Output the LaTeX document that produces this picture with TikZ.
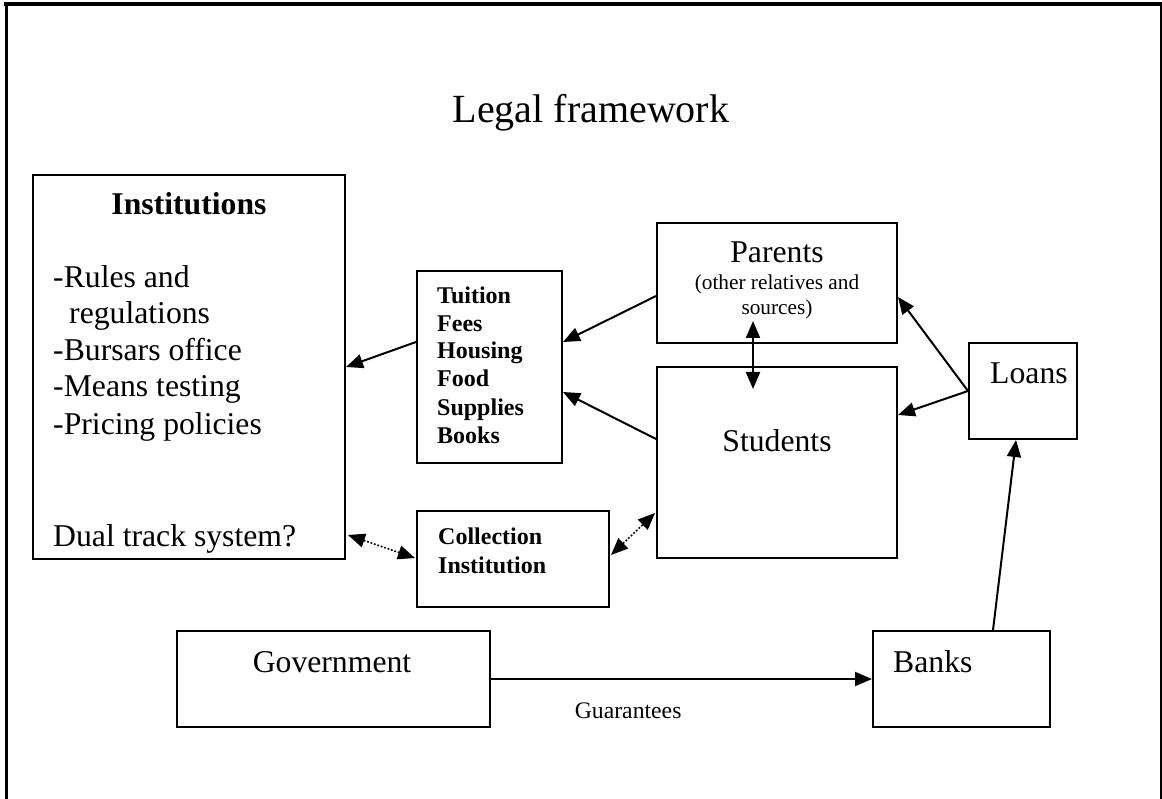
\documentclass[tikz,border=0pt]{standalone}
\usepackage{fontspec}
\setmainfont{Liberation Serif}
\usetikzlibrary{arrows.meta}
\tikzset{
  box/.style={draw, line width=2pt, inner sep=0pt, minimum width=#1},
  lbl/.style={inner sep=0pt, font=\fontsize{31.7}{36}\selectfont},
  sml/.style={inner sep=0pt, font=\fontsize{21.3}{25}\selectfont},
  bld/.style={inner sep=0pt, font=\fontsize{24}{28}\selectfont\bfseries},
  arr/.style={line width=2pt, -{Triangle[length=17pt,width=14pt]}},
  darr/.style={line width=2pt, {Triangle[length=17pt,width=14pt]}-{Triangle[length=17pt,width=14pt]}},
  dotarr/.style={line width=1.6pt, dash pattern=on 1.8pt off 1.8pt, {Triangle[length=17pt,width=14pt]}-{Triangle[length=17pt,width=14pt]}}
}
\begin{document}
\begin{tikzpicture}[x=1pt,y=-1pt]
\useasboundingbox (0,0) rectangle (1162,799);
% outer frame
\draw[line width=4pt] (4,4.5) -- (1162,4.5);
\draw[line width=3pt] (6.5,3) -- (6.5,799);
\draw[line width=1.5pt] (1161,3) -- (1161,799);

% title
\node[inner sep=0pt, anchor=base, font=\fontsize{40}{46}\selectfont] (title) at (591,123) {Legal framework};

% boxes
\node[box=312pt, minimum height=384pt] (inst) at (189,367) {};
\node[box=145pt, minimum height=192pt] (tuit) at (489.5,367) {};
\node[box=240pt, minimum height=120pt] (par) at (777,283) {};
\node[box=240pt, minimum height=191pt] (stu) at (777,462.5) {};
\node[box=192pt, minimum height=96pt] (coll) at (513,559) {};
\node[box=108pt, minimum height=96pt] (loans) at (1023,391) {};
\node[box=313pt, minimum height=96pt] (gov) at (333.5,679) {};
\node[box=177pt, minimum height=96pt] (banks) at (961.5,679) {};

% institutions text
\node[lbl, anchor=base, font=\fontsize{31.7}{36}\selectfont\bfseries] (instT) at (189,215) {Institutions};
\node[lbl, anchor=base west] (inst1) at (53,288) {-Rules and};
\node[lbl, anchor=base west] (inst2) at (69,324) {regulations};
\node[lbl, anchor=base west] (inst3) at (53,361) {-Bursars office};
\node[lbl, anchor=base west] (inst4) at (53,397) {-Means testing};
\node[lbl, anchor=base west] (inst5) at (53,435) {-Pricing policies};
\node[lbl, anchor=base west] (inst6) at (53,546) {Dual track system?};

% tuition text
\node[bld, anchor=base west] (tu1) at (437,304) {Tuition};
\node[bld, anchor=base west] (tu2) at (437,332) {Fees};
\node[bld, anchor=base west] (tu3) at (437,359) {Housing};
\node[bld, anchor=base west] (tu4) at (437,387) {Food};
\node[bld, anchor=base west] (tu5) at (437,415) {Supplies};
\node[bld, anchor=base west] (tu6) at (437,443) {Books};

% collection text
\node[bld, anchor=base west] (co1) at (438,544) {Collection};
\node[bld, anchor=base west] (co2) at (438,573) {Institution};

% parents text
\node[lbl, anchor=base] (pa1) at (777,263) {Parents};
\node[sml, anchor=base] (pa2) at (777,290) {(other relatives and};
\node[sml, anchor=base] (pa3) at (777,315) {sources)};

% others
\node[lbl, anchor=base] (stuT) at (777,451) {Students};
\node[lbl, anchor=base west] (loT) at (990,384) {Loans};
\node[lbl, anchor=base] (govT) at (332,672) {Government};
\node[lbl, anchor=base west] (baT) at (893,672) {Banks};

% connectors
\draw[arr] ([yshift=25pt]tuit.west) -- (inst.east);
\draw[arr] ([yshift=-13pt]par.west) -- ([yshift=25pt]tuit.east);
\draw[arr] ([yshift=23.5pt]stu.west) -- ([yshift=-25pt]tuit.east);
\draw[darr] ([xshift=-24pt,yshift=23pt]par.south) -- ([xshift=-24pt,yshift=-23pt]stu.north);
\draw[arr] (loans.west) -- ([yshift=-14pt]par.east);
\draw[arr] (loans.west) -- ([yshift=47.5pt]stu.east);
\draw[arr] ([xshift=31.5pt]banks.north) -- ([xshift=-7pt]loans.south);
\draw[dotarr] ([xshift=2pt,yshift=-168pt]inst.east) -- ([xshift=-1pt,yshift=1pt]coll.west);
\draw[dotarr] ([xshift=1pt,yshift=4pt]coll.east) -- ([xshift=-1pt,yshift=-50.5pt]stu.west);
\draw[arr] (gov.east) -- node[pos=0.36, below=23pt, inner sep=0pt, font=\fontsize{23.7}{28}\selectfont] (guar) {Guarantees} (banks.west);
\end{tikzpicture}
\end{document}
